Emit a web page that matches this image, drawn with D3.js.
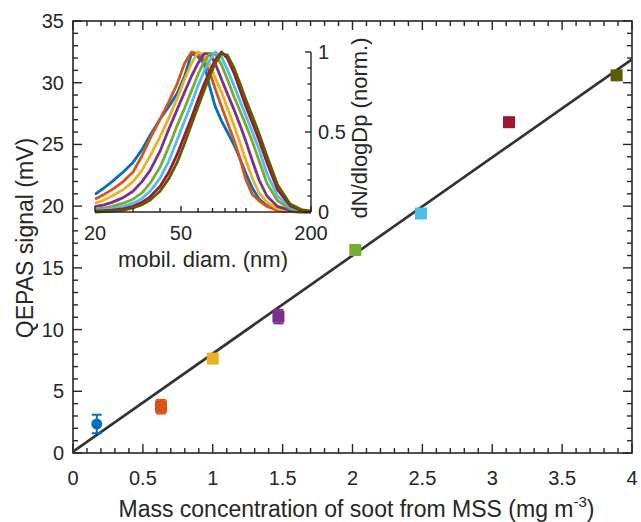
<!DOCTYPE html>
<html>
<head>
<meta charset="utf-8">
<script src="https://cdn.jsdelivr.net/npm/d3@7"></script>
<style>
  body { margin: 0; background: #fff; }
  svg text { font-family: "Liberation Sans", Arial, sans-serif; fill: #262626; }
</style>
</head>
<body>
<svg id="chart" width="641" height="522"></svg>
<script>
// main plot: QEPAS signal vs soot mass concentration
const massConc = [0.17, 0.63, 1.00, 1.47, 2.02, 2.49, 3.12, 3.89];
const qepasSignal = [2.35, 3.75, 7.65, 11.05, 16.45, 19.4, 26.8, 30.6];
const qepasError = [0.75, 0.55, 0.3, 0.55, 0.3, 0.3, 0.3, 0.3];
const pointColors = ['#0072BD', '#D95319', '#EDB120', '#7E2F8E', '#77AC30', '#4DBEEE', '#A2142F', '#5c5c00'];
const fitIntercept = 0.1;
const fitSlope = 7.95;
const xTicks = [0, 0.5, 1, 1.5, 2, 2.5, 3, 3.5, 4];
const yTicks = [0, 5, 10, 15, 20, 25, 30, 35];

// inset: normalised size distributions
const diameters = [20, 22, 24, 27, 30, 33, 36, 40, 44, 48, 52, 56, 60, 64, 68, 72, 77, 82, 88, 94, 100, 107, 115, 125, 140, 160, 180, 200];
const distBlue   = [0.11, 0.15, 0.19, 0.25, 0.31, 0.39, 0.48, 0.58, 0.66, 0.74, 0.85, 0.99, 0.97, 0.93, 0.78, 0.66, 0.57, 0.50, 0.42, 0.33, 0.24, 0.15, 0.08, 0.04, 0.015, 0.005, 0, 0];
const distOrange = [0.08, 0.11, 0.14, 0.19, 0.25, 0.35, 0.46, 0.58, 0.69, 0.80, 0.93, 1.0, 0.99, 0.95, 0.87, 0.77, 0.66, 0.56, 0.45, 0.33, 0.20, 0.11, 0.07, 0.035, 0.01, 0.003, 0, 0];
const distYellow = [0.055, 0.075, 0.10, 0.14, 0.19, 0.26, 0.35, 0.47, 0.59, 0.71, 0.83, 0.93, 1.0, 0.98, 0.92, 0.84, 0.75, 0.65, 0.54, 0.43, 0.32, 0.21, 0.12, 0.06, 0.02, 0.005, 0, 0];
const distPurple = [0.033, 0.045, 0.06, 0.09, 0.13, 0.19, 0.26, 0.38, 0.52, 0.64, 0.75, 0.85, 0.93, 0.99, 0.99, 0.93, 0.83, 0.74, 0.64, 0.54, 0.44, 0.32, 0.20, 0.10, 0.035, 0.01, 0.002, 0];
const distGreen  = [0.017, 0.025, 0.035, 0.055, 0.08, 0.12, 0.18, 0.28, 0.41, 0.54, 0.65, 0.76, 0.86, 0.94, 0.99, 0.99, 0.92, 0.83, 0.72, 0.63, 0.54, 0.44, 0.32, 0.18, 0.07, 0.02, 0.005, 0];
const distCyan   = [0.01, 0.015, 0.022, 0.035, 0.055, 0.085, 0.13, 0.21, 0.32, 0.45, 0.57, 0.68, 0.79, 0.88, 0.95, 1.0, 0.97, 0.89, 0.79, 0.69, 0.60, 0.50, 0.39, 0.24, 0.10, 0.03, 0.008, 0];
const distRed    = [0.005, 0.008, 0.012, 0.02, 0.035, 0.06, 0.095, 0.16, 0.25, 0.36, 0.48, 0.59, 0.70, 0.80, 0.88, 0.95, 1.0, 0.96, 0.87, 0.76, 0.66, 0.56, 0.45, 0.31, 0.14, 0.04, 0.01, 0.002];
const distOlive  = [0, 0.003, 0.006, 0.012, 0.025, 0.045, 0.075, 0.13, 0.21, 0.31, 0.43, 0.55, 0.66, 0.76, 0.85, 0.93, 0.99, 0.98, 0.90, 0.80, 0.70, 0.60, 0.49, 0.35, 0.17, 0.05, 0.015, 0.005];
const distSeries = [distBlue, distOrange, distYellow, distPurple, distGreen, distCyan, distRed, distOlive];
const insetXTicks = [20, 50, 200];
const insetXMinor = [30, 40, 60, 70, 80, 90, 100];
const insetYTicks = [0, 0.5, 1];

const axisColor = '#262626';
let svg = d3.select('#chart');

let xScale = d3.scaleLinear().domain([0, 4]).range([73, 632]);
let yScale = d3.scaleLinear().domain([0, 35]).range([453, 21]);

let [x0, x1] = xScale.range();
let [y0, y1] = yScale.range();

let axes = svg.append('g').attr('class', 'main-axes');

// inward ticks on all four sides, minor ticks between
let xMinor = d3.range(0, 41).map(i => i / 10);
let yMinor = d3.range(0, 36);
function tickLen(isMajor) { return isMajor ? 9 : 5; }

xMinor.forEach(v => {
  let major = Math.abs(v * 2 - Math.round(v * 2)) < 1e-6;
  let x = xScale(v);
  axes.append('line').attr('x1', x).attr('x2', x).attr('y1', y0).attr('y2', y0 - tickLen(major));
  axes.append('line').attr('x1', x).attr('x2', x).attr('y1', y1).attr('y2', y1 + tickLen(major));
});
yMinor.forEach(v => {
  let major = v % 5 === 0;
  let y = yScale(v);
  axes.append('line').attr('x1', x0).attr('x2', x0 + tickLen(major)).attr('y1', y).attr('y2', y);
  axes.append('line').attr('x1', x1).attr('x2', x1 - tickLen(major)).attr('y1', y).attr('y2', y);
});
axes.selectAll('line').attr('stroke', axisColor).attr('stroke-width', 1.4);

axes.append('rect')
    .attr('x', x0).attr('y', y1)
    .attr('width', x1 - x0).attr('height', y0 - y1)
    .attr('fill', 'none')
    .attr('stroke', axisColor)
    .attr('stroke-width', 1.6);

axes.selectAll('.xtick-label')
    .data(xTicks)
    .join('text')
    .attr('x', d => xScale(d))
    .attr('y', y0 + 32)
    .attr('text-anchor', 'middle')
    .attr('font-size', 20)
    .text(d => d);

axes.selectAll('.ytick-label')
    .data(yTicks)
    .join('text')
    .attr('x', x0 - 9)
    .attr('y', d => yScale(d) + 7)
    .attr('text-anchor', 'end')
    .attr('font-size', 20)
    .text(d => d);

let xLabel = svg.append('text')
                .attr('x', (x0 + x1) / 2 + 4)
                .attr('y', 517)
                .attr('text-anchor', 'middle')
                .attr('font-size', 23);
xLabel.append('tspan').text('Mass concentration of soot from MSS (mg m');
xLabel.append('tspan').attr('font-size', 15).attr('dy', -10).text('-3');
xLabel.append('tspan').attr('dy', 10).text(')');

svg.append('text')
   .attr('transform', `translate(33, ${(y0 + y1) / 2 + 1}) rotate(-90)`)
   .attr('text-anchor', 'middle')
   .attr('font-size', 23)
   .text('QEPAS signal (mV)');

// linear fit
svg.append('clipPath').attr('id', 'plot-clip')
   .append('rect')
   .attr('x', x0).attr('y', y1)
   .attr('width', x1 - x0).attr('height', y0 - y1);

svg.append('line')
   .attr('clip-path', 'url(#plot-clip)')
   .attr('x1', xScale(0)).attr('y1', yScale(fitIntercept))
   .attr('x2', xScale(4)).attr('y2', yScale(fitIntercept + fitSlope * 4))
   .attr('stroke', '#333')
   .attr('stroke-width', 2.7);

// points with error bars
let pts = svg.append('g').attr('class', 'points');
massConc.forEach((m, i) => {
  let cx = xScale(m), cy = yScale(qepasSignal[i]);
  let c = pointColors[i];
  let top = yScale(qepasSignal[i] + qepasError[i]);
  let bot = yScale(qepasSignal[i] - qepasError[i]);
  pts.append('line').attr('x1', cx).attr('x2', cx).attr('y1', top).attr('y2', bot)
     .attr('stroke', c).attr('stroke-width', 2);
  [top, bot].forEach(y => {
    pts.append('line').attr('x1', cx - 5).attr('x2', cx + 5).attr('y1', y).attr('y2', y)
       .attr('stroke', c).attr('stroke-width', 2);
  });
  if (i === 0) {
    pts.append('circle').attr('cx', cx).attr('cy', cy).attr('r', 5.5).attr('fill', c);
  } else {
    pts.append('rect').attr('x', cx - 6).attr('y', cy - 6)
       .attr('width', 12).attr('height', 12).attr('fill', c);
  }
});

// inset
let ix = d3.scaleLog().domain([20, 200]).range([95, 311]);
let iy = d3.scaleLinear().domain([0, 1]).range([212, 52]);
let inset = svg.append('g').attr('class', 'inset');

let line = d3.line()
             .x(d => ix(d[0]))
             .y(d => iy(d[1]));

distSeries.forEach((vals, i) => {
  inset.append('path')
       .datum(diameters.map((d, j) => [d, vals[j]]))
       .attr('d', line)
       .attr('fill', 'none')
       .attr('stroke', pointColors[i])
       .attr('stroke-width', 2.8)
       .attr('stroke-linejoin', 'round');
});

let insetAxes = inset.append('g');
insetAxes.append('line')
         .attr('x1', ix(20)).attr('x2', ix(200))
         .attr('y1', iy(0)).attr('y2', iy(0));
insetAxes.append('line')
         .attr('x1', ix(200)).attr('x2', ix(200))
         .attr('y1', iy(0)).attr('y2', iy(1));
insetXTicks.concat(insetXMinor).forEach(d => {
  let len = insetXTicks.includes(d) ? 6 : 4;
  insetAxes.append('line')
           .attr('x1', ix(d)).attr('x2', ix(d))
           .attr('y1', iy(0)).attr('y2', iy(0) - len);
});
d3.range(0, 11).forEach(k => {
  let len = k % 5 === 0 ? 6 : 3.5;
  insetAxes.append('line')
           .attr('x1', ix(200)).attr('x2', ix(200) - len)
           .attr('y1', iy(k / 10)).attr('y2', iy(k / 10));
});
insetAxes.selectAll('line').attr('stroke', axisColor).attr('stroke-width', 1.4);

inset.selectAll('.ixlabel')
     .data(insetXTicks)
     .join('text')
     .attr('x', d => ix(d))
     .attr('y', iy(0) + 28)
     .attr('text-anchor', 'middle')
     .attr('font-size', 20)
     .text(d => d);

inset.selectAll('.iylabel')
     .data(insetYTicks)
     .join('text')
     .attr('x', ix(200) + 7)
     .attr('y', d => iy(d) + 7)
     .attr('font-size', 20)
     .text(d => d);

inset.append('text')
     .attr('x', (ix(20) + ix(200)) / 2)
     .attr('y', 267)
     .attr('text-anchor', 'middle')
     .attr('font-size', 22)
     .text('mobil. diam. (nm)');

inset.append('text')
     .attr('transform', `translate(367, 128) rotate(-90)`)
     .attr('text-anchor', 'middle')
     .attr('font-size', 22)
     .text('dN/dlogDp (norm.)');
</script>
</body>
</html>
